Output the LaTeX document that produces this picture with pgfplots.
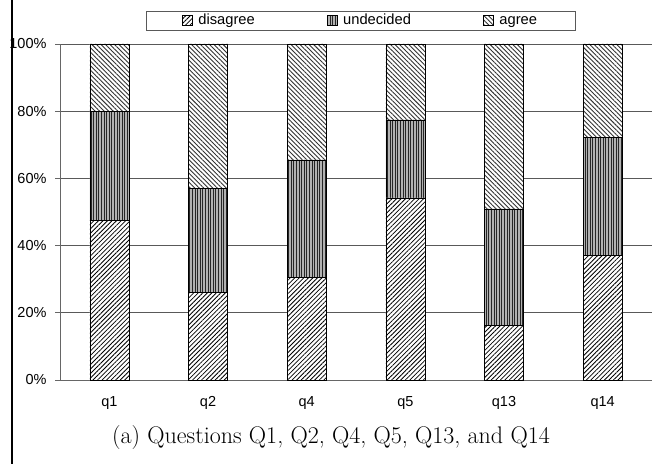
\documentclass[border=0pt]{standalone}
\usepackage{pgfplots}
\pgfplotsset{compat=1.18}
\usepackage{pgfplotstable}
\usetikzlibrary{patterns.meta}
\usepackage{fontspec}
\newfontfamily\arial{Liberation Sans}

% shares per question, in percent
\pgfplotstableread{
x dis und agr
0 47.6 32.3 20.1
1 26.1 30.9 43.0
2 30.5 35.0 34.5
3 54.2 23.2 22.6
4 16.2 34.7 49.1
5 37.1 35.1 27.8
}\survey

\begin{document}
\begin{tikzpicture}
\useasboundingbox (-60pt,-84pt) rectangle (592pt,380pt);
\draw[black, line width=1.3pt] (-48pt,380pt) -- (-48pt,-84pt);
\begin{axis}[
    at={(0pt,0pt)}, anchor=south west,
    scale only axis, width=592pt, height=336pt,
    ybar stacked, bar width=39pt,
    xmin=-0.5, xmax=5.5, ymin=0, ymax=100,
    axis x line*=bottom, axis y line*=left,
    axis line style={draw=gray!80!black, line width=0.8pt},
    xtick={0,...,5}, xticklabels={q1,q2,q4,q5,q13,q14},
    major x tick style={draw=none},
    xticklabel style={yshift=-13pt},
    extra x ticks={0.5,1.5,2.5,3.5,4.5}, extra x tick labels={},
    extra x tick style={tick align=outside, major tick length=5pt,
        major tick style={draw=gray!80!black, line width=0.8pt}},
    ytick={0,20,...,100}, yticklabel={\pgfmathprintnumber{\tick}\%},
    yticklabel style={xshift=-5pt},
    ytick align=outside, major tick length=5pt,
    ytick style={draw=gray!80!black, line width=0.8pt},
    ymajorgrids, grid style={draw=gray!70!black, line width=0.8pt},
    ticklabel style={font=\arial\fontsize{14.5}{16}\selectfont},
    /pgf/number format/assume math mode=true,
    legend columns=3,
    legend image code/.code={\draw[#1, line width=0.4pt] (0pt,-4.5pt) rectangle (10pt,5.5pt);},
    legend style={at={(axis description cs:0.5076,1.0387)}, anchor=south,
        draw=gray!70!black, line width=0.8pt,
        font=\arial\fontsize{14.7}{16}\selectfont, inner xsep=36pt, inner ysep=1pt,
        nodes={text height=10.5pt, text depth=3pt},
        /tikz/every odd column/.append style={column sep=4pt},
        /tikz/every even column/.append style={column sep=70pt}},
]
\addplot[draw=black, line width=0.5pt, fill=white,
    postaction={pattern={Lines[angle=45, distance=3.2pt, line width=0.8pt]}, pattern color=black}]
    table[x=x, y=dis] {\survey};
\addplot[draw=black, line width=0.5pt, fill=gray!60,
    postaction={pattern={Lines[angle=90, distance=2.6pt, line width=0.8pt]}, pattern color=black!85}]
    table[x=x, y=und] {\survey};
\addplot[draw=black, line width=0.5pt, fill=white,
    postaction={pattern={Lines[angle=-45, distance=3.2pt, line width=0.9pt]}, pattern color=black!80}]
    table[x=x, y=agr] {\survey};
\legend{disagree, undecided, agree}
\end{axis}
\node[anchor=base, font=\fontsize{24}{28}\selectfont] at (271pt,-63pt)
    {(a) Questions Q1, Q2, Q4, Q5, Q13, and Q14};
\end{tikzpicture}
\end{document}
